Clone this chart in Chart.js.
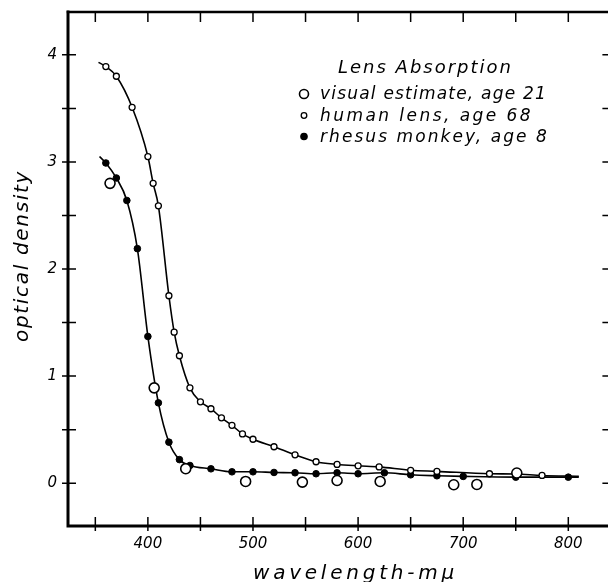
<!DOCTYPE html>
<html>
<head>
<meta charset="utf-8">
<script src="https://cdn.jsdelivr.net/npm/chart.js@4/dist/chart.umd.min.js"></script>
<style>
  html, body { margin: 0; padding: 0; background: #fff; overflow: hidden; }
  #wrap { width: 618px; height: 582px; }
</style>
</head>
<body>
<div id="wrap"><canvas id="chart" width="618" height="582"></canvas></div>
<script>
// Lens absorption, values (wavelength in mμ, optical density)
const visualWl = [364, 406, 436, 493, 547, 580, 621, 691, 713, 751];
const visualOD = [2.80, 0.89, 0.135, 0.016, 0.01, 0.025, 0.016, -0.015, -0.012, 0.095];

// first and last entries are the curve ends, drawn without a marker
const humanWl = [353, 360, 370, 385, 400, 405, 410, 420, 425, 430, 440, 450, 460, 470, 480, 490, 500,
                 520, 540, 560, 580, 600, 620, 650, 675, 725, 750, 775, 810];
const humanOD = [3.93, 3.89, 3.80, 3.51, 3.05, 2.80, 2.59, 1.75, 1.41, 1.19, 0.89, 0.76, 0.695, 0.61, 0.54, 0.46, 0.41,
                 0.34, 0.265, 0.20, 0.175, 0.162, 0.152, 0.12, 0.11, 0.088, 0.085, 0.072, 0.065];

const monkeyWl = [354, 360, 370, 380, 390, 400, 410, 420, 430, 440, 460, 480, 500, 520, 540, 560, 580, 600,
                  625, 650, 675, 700, 750, 800, 810];
const monkeyOD = [3.05, 2.99, 2.85, 2.64, 2.19, 1.37, 0.75, 0.383, 0.22, 0.165, 0.134, 0.106, 0.106, 0.10, 0.097, 0.088, 0.097, 0.088,
                  0.097, 0.078, 0.069, 0.063, 0.056, 0.056, 0.056];

const xTickValues = [350, 400, 450, 500, 550, 600, 650, 700, 750, 800];
const xLabelValues = [400, 500, 600, 700, 800];
const yTickValues = [0, 0.5, 1, 1.5, 2, 2.5, 3, 3.5, 4];
const yLabelValues = [0, 1, 2, 3, 4];

const legendTitle = 'Lens Absorption';
const seriesLabels = ['visual estimate, age 21', 'human lens, age 68', 'rhesus monkey, age 8'];
const xTitle = 'wavelength-mμ';
const yTitle = 'optical density';

Chart.defaults.font.family = "'DejaVu Sans', sans-serif";
Chart.defaults.font.style = 'italic';
Chart.defaults.color = '#000';

function toPoints(xs, ys) {
  return xs.map((x, i) => ({ x: x, y: ys[i] }));
}

// marker hidden on the two curve ends
function hideEnds(r) {
  return ctx => (ctx.dataIndex === 0 || ctx.dataIndex === ctx.dataset.data.length - 1) ? 0 : r;
}

// fixed axis box sizes, no label overhang padding
function fixBox(size, horizontal) {
  return s => {
    if (horizontal) s.height = size; else s.width = size;
    s.paddingTop = 0; s.paddingBottom = 0; s.paddingLeft = 0; s.paddingRight = 0;
  };
}

// draw text stretched with letter spacing to a given width
function spacedText(ctx, text, x, y, width) {
  ctx.letterSpacing = '0px';
  const w = ctx.measureText(text).width;
  const n = [...text].length;
  ctx.letterSpacing = ((width - w) / n) + 'px';
  ctx.textAlign = 'left';
  ctx.fillText(text, x, y);
  ctx.letterSpacing = '0px';
}

// frame with tick marks on all four sides
const framePlugin = {
  id: 'frame',
  afterDraw(chart) {
    const ctx = chart.ctx;
    const ca = chart.chartArea;
    const xs = chart.scales.x, ys = chart.scales.y;
    ctx.save();
    ctx.strokeStyle = '#000';
    ctx.lineCap = 'square';
    ctx.lineWidth = 3;
    ctx.beginPath();
    ctx.moveTo(ca.left, ca.top); ctx.lineTo(ca.left, ca.bottom); ctx.lineTo(ca.right, ca.bottom);
    ctx.stroke();
    ctx.lineWidth = 2.5;
    ctx.beginPath();
    ctx.moveTo(ca.left, ca.top); ctx.lineTo(ca.right, ca.top); ctx.lineTo(ca.right, ca.bottom);
    ctx.stroke();

    ctx.lineWidth = 1.5;
    ctx.lineCap = 'butt';
    ctx.beginPath();
    xs.ticks.forEach(t => {
      const px = xs.getPixelForValue(t.value);
      ctx.moveTo(px, ca.bottom + 5); ctx.lineTo(px, ca.bottom - 9);
      ctx.moveTo(px, ca.top); ctx.lineTo(px, ca.top + 10);
    });
    ys.ticks.forEach(t => {
      const py = ys.getPixelForValue(t.value);
      ctx.moveTo(ca.left - 6, py); ctx.lineTo(ca.left + 8, py);
      ctx.moveTo(ca.right, py); ctx.lineTo(ca.right - 9, py);
    });
    ctx.stroke();

    // axis titles
    ctx.fillStyle = '#000';
    ctx.textBaseline = 'alphabetic';
    ctx.font = "italic 20px 'DejaVu Sans'";
    spacedText(ctx, xTitle, 253, 579, 205);
    ctx.save();
    ctx.translate(28, 342);
    ctx.rotate(-Math.PI / 2);
    spacedText(ctx, yTitle, 0, 0, 172);
    ctx.restore();
    ctx.restore();
  }
};

// legend block in the upper right of the plot
const legendPlugin = {
  id: 'lensLegend',
  afterDraw(chart) {
    const ctx = chart.ctx;
    ctx.save();
    ctx.fillStyle = '#000';
    ctx.strokeStyle = '#000';
    ctx.textBaseline = 'alphabetic';
    ctx.font = "italic 18px 'DejaVu Sans'";
    spacedText(ctx, legendTitle, 338, 73, 175);
    const rows = [
      { y: 99, width: 227, r: 4.5, fill: '#fff', lw: 1.6 },
      { y: 120.5, width: 213, r: 2.8, fill: '#fff', lw: 1.3 },
      { y: 141.5, width: 229, r: 3.2, fill: '#000', lw: 1.2 }
    ];
    ctx.font = "italic 17px 'DejaVu Sans'";
    rows.forEach((row, i) => {
      ctx.beginPath();
      ctx.arc(304, row.y - 5, row.r, 0, Math.PI * 2);
      ctx.fillStyle = row.fill;
      ctx.fill();
      ctx.lineWidth = row.lw;
      ctx.stroke();
      ctx.fillStyle = '#000';
      spacedText(ctx, seriesLabels[i], 320, row.y, row.width);
    });
    ctx.restore();
  }
};

new Chart(document.getElementById('chart'), {
  type: 'line',
  data: {
    datasets: [
      {
        label: seriesLabels[0],
        data: toPoints(visualWl, visualOD),
        showLine: false,
        pointRadius: 5,
        pointBorderWidth: 1.6,
        pointBackgroundColor: '#fff',
        pointBorderColor: '#000',
        order: 0
      },
      {
        label: seriesLabels[1],
        data: toPoints(humanWl, humanOD),
        borderColor: '#000',
        borderWidth: 1.6,
        cubicInterpolationMode: 'monotone',
        pointRadius: hideEnds(3),
        pointBorderWidth: 1.3,
        pointBackgroundColor: '#fff',
        pointBorderColor: '#000',
        order: 1
      },
      {
        label: seriesLabels[2],
        data: toPoints(monkeyWl, monkeyOD),
        borderColor: '#000',
        borderWidth: 1.6,
        cubicInterpolationMode: 'monotone',
        pointRadius: hideEnds(3.3),
        pointBorderWidth: 1,
        pointBackgroundColor: '#000',
        pointBorderColor: '#000',
        order: 2
      }
    ]
  },
  options: {
    responsive: false,
    animation: false,
    devicePixelRatio: 1,
    layout: { padding: { top: 12, right: 3, left: 0, bottom: 0 } },
    plugins: { legend: { display: false }, tooltip: { enabled: false } },
    scales: {
      x: {
        type: 'linear',
        min: 324,
        max: 841,
        grid: { display: false, drawTicks: false },
        border: { display: false },
        afterBuildTicks: s => { s.ticks = xTickValues.map(v => ({ value: v })); },
        afterFit: fixBox(56, true),
        ticks: {
          autoSkip: false,
          maxRotation: 0,
          padding: 9,
          font: { size: 15 },
          callback: v => xLabelValues.includes(v) ? String(v) : ''
        }
      },
      y: {
        type: 'linear',
        min: -0.4,
        max: 4.4,
        grid: { display: false, drawTicks: false },
        border: { display: false },
        afterBuildTicks: s => { s.ticks = yTickValues.map(v => ({ value: v })); },
        afterFit: fixBox(68, false),
        ticks: {
          autoSkip: false,
          padding: 11,
          font: { size: 15 },
          callback: v => yLabelValues.includes(v) ? String(v) : ''
        }
      }
    }
  },
  plugins: [framePlugin, legendPlugin]
});
</script>
</body>
</html>
